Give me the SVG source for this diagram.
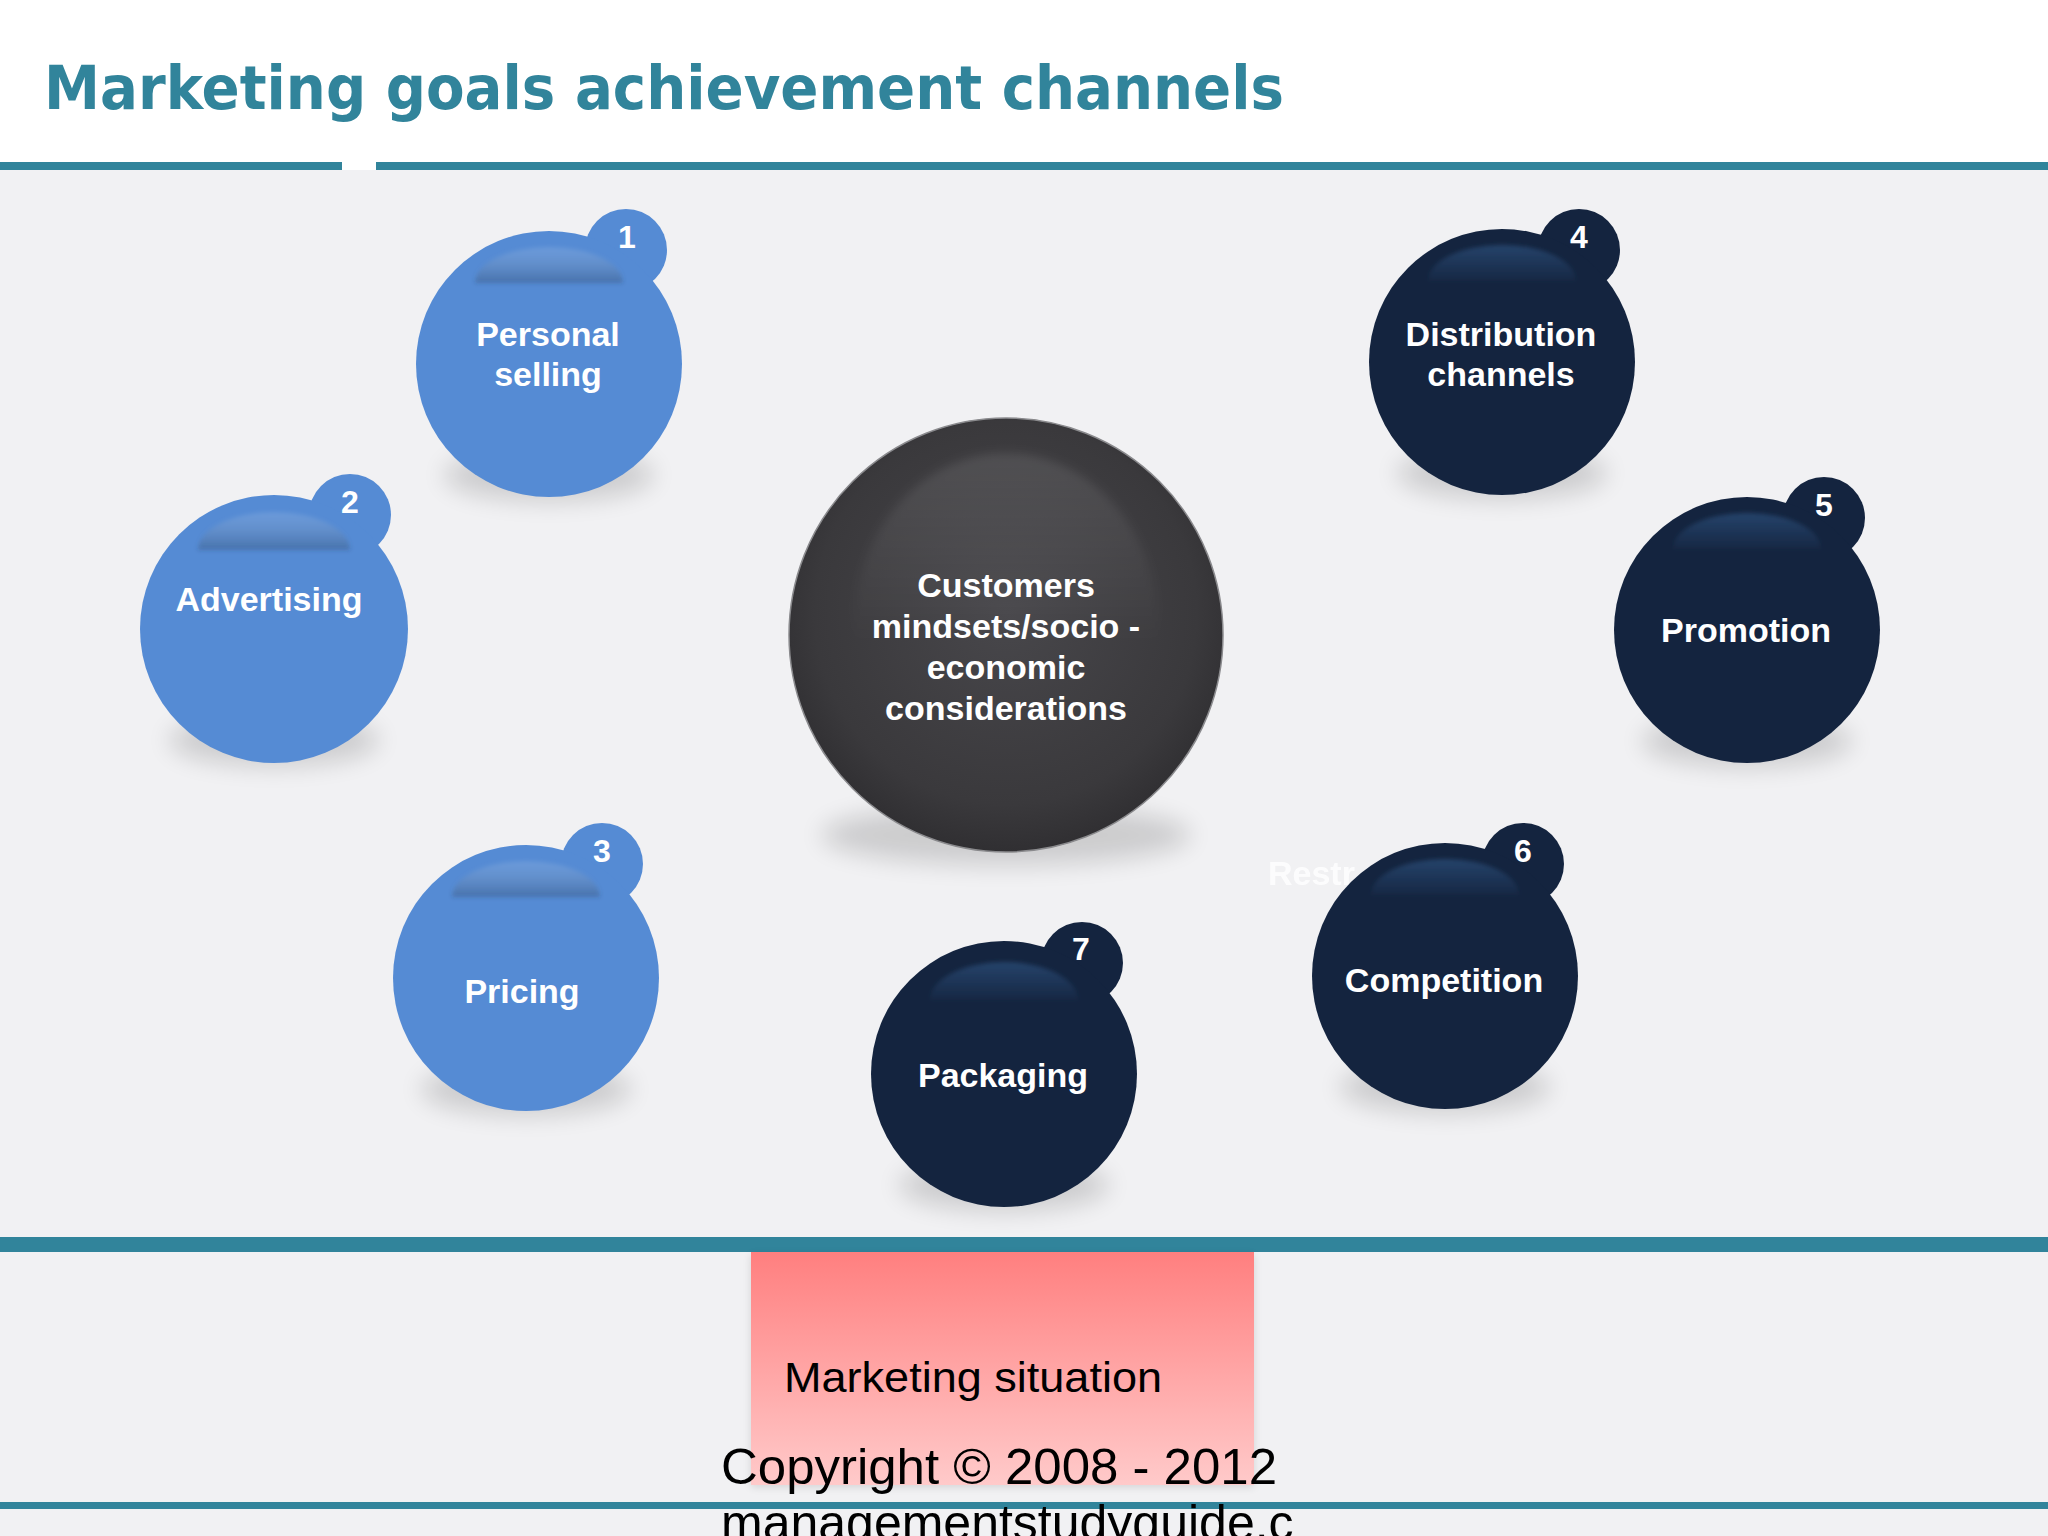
<svg xmlns="http://www.w3.org/2000/svg" width="2048" height="1536" viewBox="0 0 2048 1536">
<defs>
<style>
.lbl{font-family:"Liberation Sans",Arial,sans-serif;font-weight:bold;font-size:34px;fill:#ffffff;text-anchor:middle}
.num{font-family:"Liberation Sans",Arial,sans-serif;font-weight:bold;font-size:32px;fill:#ffffff;text-anchor:middle}
.blue{fill:#558bd4}
.navy{fill:#14243f}
.teal{fill:#31849b}
.shadow{fill:#000000;opacity:0.15;filter:url(#blur)}
.hlb{fill:url(#hlBlue);filter:url(#soft)}
.hln{fill:url(#hlNavy);filter:url(#soft)}
.foot{font-family:"Liberation Sans",Arial,sans-serif;fill:#000000}
</style>
<filter id="blur" x="-50%" y="-50%" width="200%" height="200%"><feGaussianBlur stdDeviation="12"/></filter>
<filter id="soft" x="-20%" y="-50%" width="140%" height="200%"><feGaussianBlur stdDeviation="2"/></filter>
<filter id="soft6" x="-20%" y="-20%" width="140%" height="140%"><feGaussianBlur stdDeviation="5"/></filter>
<filter id="boxsh" x="-10%" y="-10%" width="120%" height="120%"><feGaussianBlur stdDeviation="4"/></filter>
<linearGradient id="hlBlue" x1="0" y1="0" x2="0" y2="1">
<stop offset="0" stop-color="#ffffff" stop-opacity="0.12"/>
<stop offset="1" stop-color="#1a2a40" stop-opacity="0.28"/>
</linearGradient>
<linearGradient id="hlNavy" x1="0" y1="0" x2="0" y2="1">
<stop offset="0" stop-color="#3a6aa0" stop-opacity="0.45"/>
<stop offset="1" stop-color="#3a6aa0" stop-opacity="0.05"/>
</linearGradient>
<radialGradient id="centerFill" cx="0.5" cy="0.45" r="0.55">
<stop offset="0" stop-color="#48474b"/>
<stop offset="0.8" stop-color="#3a393c"/>
<stop offset="1" stop-color="#302f32"/>
</radialGradient>
<linearGradient id="centerHl" x1="0" y1="0" x2="0" y2="1">
<stop offset="0" stop-color="#ffffff" stop-opacity="0.10"/>
<stop offset="0.55" stop-color="#ffffff" stop-opacity="0.0"/>
</linearGradient>
<linearGradient id="pink" x1="0" y1="0" x2="0" y2="1">
<stop offset="0" stop-color="#ff7f7f"/>
<stop offset="1" stop-color="#ffcaca"/>
</linearGradient>
</defs>

<!-- background -->
<rect x="0" y="0" width="2048" height="1536" fill="#f1f1f3"/>
<rect x="0" y="0" width="2048" height="162" fill="#ffffff"/>
<text x="44" y="109" font-family="DejaVu Sans, Verdana, sans-serif" font-weight="bold" font-size="60" fill="#31849b" textLength="1240" lengthAdjust="spacingAndGlyphs">Marketing goals achievement channels</text>
<rect class="teal" x="0" y="162" width="342" height="8"/>
<rect class="teal" x="376" y="162" width="1672" height="8"/>
<rect x="342" y="162" width="34" height="8" fill="#ffffff"/>

<!-- faint text -->
<text x="1268" y="885" font-family="Liberation Sans, Arial, sans-serif" font-weight="bold" font-size="34" fill="#ffffff" opacity="0.85">Restr</text>

<g id="connectors"></g>

<!-- center -->
<g id="node-center">
<ellipse class="shadow" cx="1006" cy="835" rx="185" ry="30"/>
<circle cx="1006" cy="635" r="217" fill="url(#centerFill)" stroke="#8a8a8d" stroke-width="1.5"/>
<ellipse cx="1006" cy="625" rx="152" ry="172" fill="url(#centerHl)" filter="url(#soft6)"/>
<text class="lbl" x="1006" y="597">Customers</text>
<text class="lbl" x="1006" y="638">mindsets/socio -</text>
<text class="lbl" x="1006" y="679">economic</text>
<text class="lbl" x="1006" y="720">considerations</text>
</g>

<!-- 1 Personal selling -->
<g id="node-1">
<ellipse class="shadow" cx="549" cy="475" rx="105" ry="26"/>
<circle class="blue" cx="626" cy="250" r="41"/>
<circle class="blue" cx="549" cy="364" r="133"/>
<path class="hlb" d="M475,283 A74,36 0 0 1 623,283 Z"/>
<text class="lbl" x="548" y="346">Personal</text>
<text class="lbl" x="548" y="386">selling</text>
<text class="num" x="627" y="248">1</text>
</g>

<!-- 2 Advertising -->
<g id="node-2">
<ellipse class="shadow" cx="274" cy="740" rx="105" ry="26"/>
<circle class="blue" cx="350" cy="515" r="41"/>
<circle class="blue" cx="274" cy="629" r="134"/>
<path class="hlb" d="M198,550 A76,38 0 0 1 350,550 Z"/>
<text class="lbl" x="269" y="611">Advertising</text>
<text class="num" x="350" y="513">2</text>
</g>

<!-- 3 Pricing -->
<g id="node-3">
<ellipse class="shadow" cx="526" cy="1089" rx="105" ry="26"/>
<circle class="blue" cx="602" cy="864" r="41"/>
<circle class="blue" cx="526" cy="978" r="133"/>
<path class="hlb" d="M452,897 A74,36 0 0 1 600,897 Z"/>
<text class="lbl" x="522" y="1003">Pricing</text>
<text class="num" x="602" y="862">3</text>
</g>

<!-- 4 Distribution channels -->
<g id="node-4">
<ellipse class="shadow" cx="1502" cy="473" rx="105" ry="26"/>
<circle class="navy" cx="1579" cy="250" r="41"/>
<circle class="navy" cx="1502" cy="362" r="133"/>
<path class="hln" d="M1428,281 A74,36 0 0 1 1576,281 Z"/>
<text class="lbl" x="1501" y="346">Distribution</text>
<text class="lbl" x="1501" y="386">channels</text>
<text class="num" x="1579" y="248">4</text>
</g>

<!-- 5 Promotion -->
<g id="node-5">
<ellipse class="shadow" cx="1747" cy="741" rx="105" ry="26"/>
<circle class="navy" cx="1824" cy="518" r="41"/>
<circle class="navy" cx="1747" cy="630" r="133"/>
<path class="hln" d="M1673,549 A74,36 0 0 1 1821,549 Z"/>
<text class="lbl" x="1746" y="642">Promotion</text>
<text class="num" x="1824" y="516">5</text>
</g>

<!-- 6 Competition -->
<g id="node-6">
<ellipse class="shadow" cx="1445" cy="1087" rx="105" ry="26"/>
<circle class="navy" cx="1523" cy="864" r="41"/>
<circle class="navy" cx="1445" cy="976" r="133"/>
<path class="hln" d="M1371,895 A74,36 0 0 1 1519,895 Z"/>
<text class="lbl" x="1444" y="992">Competition</text>
<text class="num" x="1523" y="862">6</text>
</g>

<!-- 7 Packaging -->
<g id="node-7">
<ellipse class="shadow" cx="1004" cy="1185" rx="105" ry="26"/>
<circle class="navy" cx="1082" cy="963" r="41"/>
<circle class="navy" cx="1004" cy="1074" r="133"/>
<path class="hln" d="M930,1000 A74,38 0 0 1 1078,1000 Z"/>
<text class="lbl" x="1003" y="1087">Packaging</text>
<text class="num" x="1081" y="960">7</text>
</g>

<!-- bottom band -->
<rect class="teal" x="0" y="1237" width="2048" height="15"/>
<g id="node-situation">
<rect x="751" y="1255" width="503" height="232" fill="#000000" opacity="0.12" filter="url(#boxsh)"/>
<rect x="751" y="1252" width="503" height="233" fill="url(#pink)"/>
<text class="foot" x="784" y="1392" font-size="43" textLength="378" lengthAdjust="spacingAndGlyphs">Marketing situation</text>
</g>
<text class="foot" x="721" y="1484" font-size="50" textLength="556" lengthAdjust="spacingAndGlyphs">Copyright © 2008 - 2012</text>
<rect class="teal" x="0" y="1502" width="2048" height="7"/>
<text class="foot" x="721" y="1540" font-size="50">managementstudyguide.c</text>
</svg>
